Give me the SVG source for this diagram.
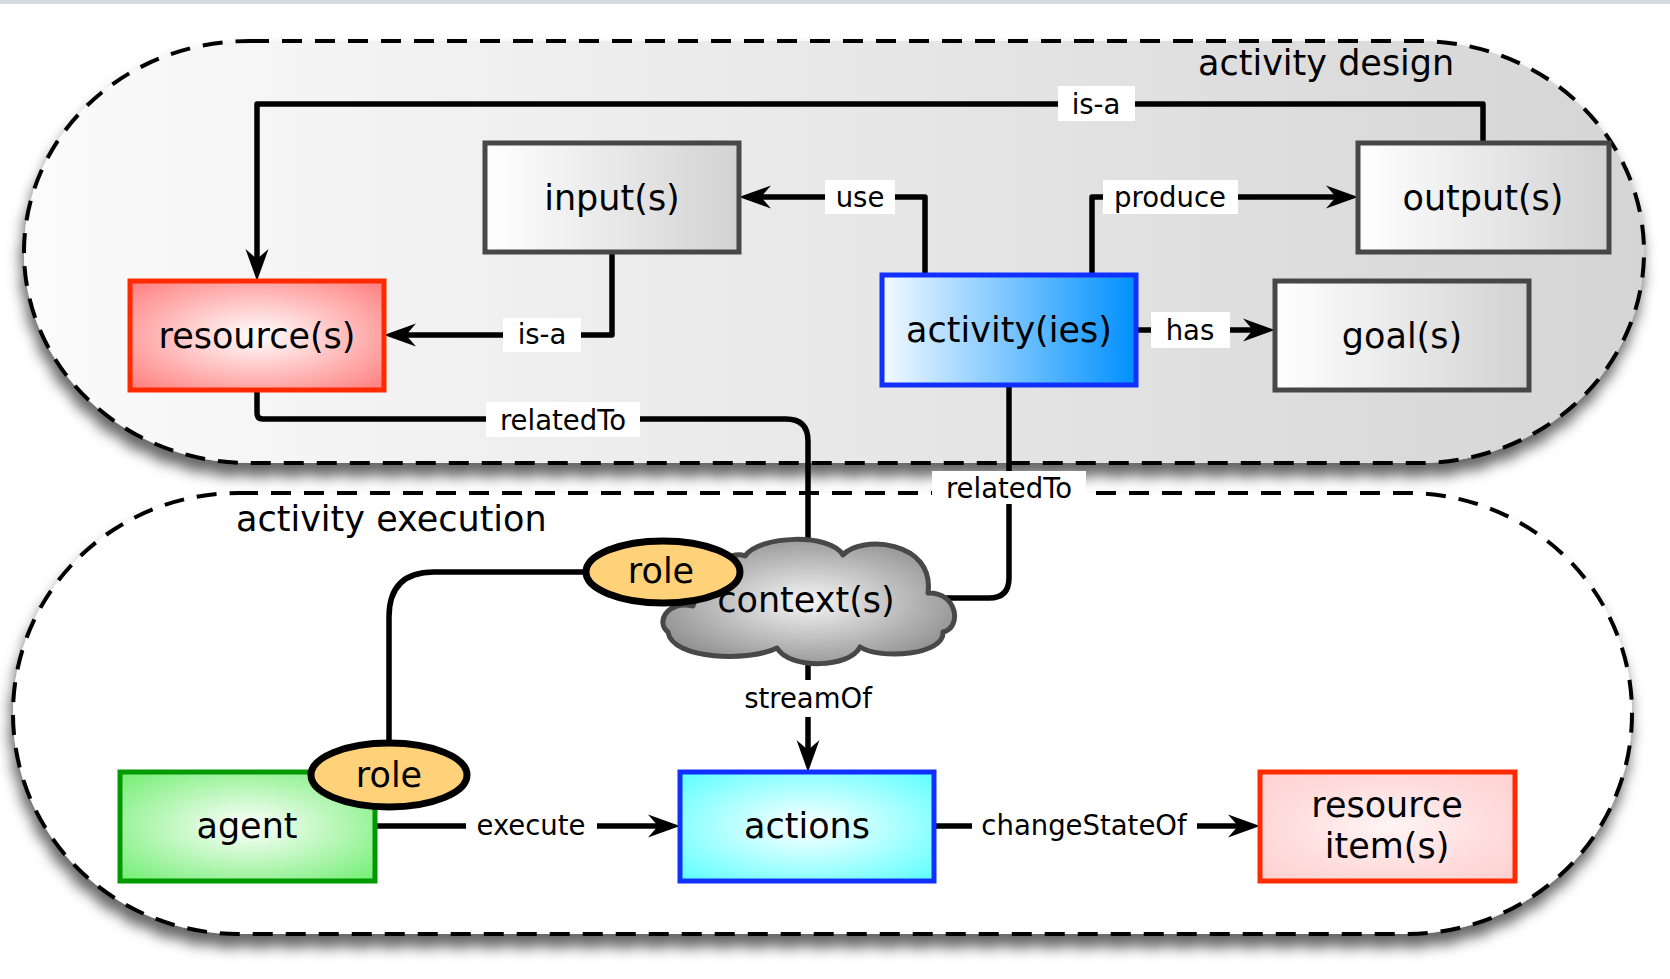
<svg xmlns="http://www.w3.org/2000/svg" width="1670" height="979" viewBox="0 0 1670 979">
  <defs>
    <style>
      text { font-family: "DejaVu Sans", "Liberation Sans", sans-serif; fill: #000; }
      .node-text { font-size: 35px; text-anchor: middle; }
      .edge-text { font-size: 27.5px; text-anchor: middle; }
      .area-text { font-size: 35px; }
      .area { stroke: #000; stroke-width: 4; stroke-dasharray: 20 13; }
      .edge { fill: none; stroke: #000; stroke-width: 5.5; stroke-linejoin: round; }
      .lbl { fill: #fff; stroke: none; }
      .box { stroke-width: 5; }
      .grey { stroke: #474747; fill: url(#gGrey); }
      .role { fill: #ffd27a; stroke: #000; stroke-width: 7; }
    </style>
    <linearGradient id="gDesign" x1="0" y1="0" x2="1" y2="0">
      <stop offset="0" stop-color="#fbfbfb"/>
      <stop offset="1" stop-color="#d5d5d5"/>
    </linearGradient>
    <linearGradient id="gGrey" x1="0" y1="0" x2="1" y2="0">
      <stop offset="0" stop-color="#ffffff"/>
      <stop offset="1" stop-color="#d2d2d2"/>
    </linearGradient>
    <linearGradient id="gActivity" x1="0" y1="0" x2="1" y2="0">
      <stop offset="0" stop-color="#f4faff"/>
      <stop offset="1" stop-color="#0090ff"/>
    </linearGradient>
    <radialGradient id="gRed" cx="0.5" cy="0.5" r="0.7">
      <stop offset="0" stop-color="#ffffff"/>
      <stop offset="1" stop-color="#ff7c7c"/>
    </radialGradient>
    <radialGradient id="gPink" cx="0.5" cy="0.5" r="0.7">
      <stop offset="0" stop-color="#fff4f4"/>
      <stop offset="0.6" stop-color="#ffdcdc"/>
      <stop offset="1" stop-color="#ffd0d0"/>
    </radialGradient>
    <radialGradient id="gGreen" cx="0.5" cy="0.5" r="0.7">
      <stop offset="0" stop-color="#ffffff"/>
      <stop offset="1" stop-color="#72ee72"/>
    </radialGradient>
    <radialGradient id="gCyan" cx="0.5" cy="0.5" r="0.7">
      <stop offset="0" stop-color="#ffffff"/>
      <stop offset="1" stop-color="#5cffff"/>
    </radialGradient>
    <radialGradient id="gCloud" cx="0.5" cy="0.5" r="0.62">
      <stop offset="0" stop-color="#f6f6f6"/>
      <stop offset="1" stop-color="#868686"/>
    </radialGradient>
    <filter id="shadow" x="-5%" y="-10%" width="110%" height="125%">
      <feDropShadow dx="-2" dy="12" stdDeviation="7" flood-color="#000" flood-opacity="0.6"/>
    </filter>
    <!-- stealth arrowhead; reference point sits at the notch, tip 22 units ahead -->
    <marker id="arrow" markerUnits="userSpaceOnUse" viewBox="-11 -12 34 24" markerWidth="34" markerHeight="24" refX="0" refY="0" orient="auto">
      <path d="M-10,-11.5 L22,0 L-10,11.5 L0,0 Z" fill="#000"/>
    </marker>
  </defs>

  <rect width="1670" height="979" fill="#fff"/>
  <rect x="0" y="0" width="1670" height="4" fill="#d4dbe1"/>

  <!-- areas -->
  <g id="area-design" filter="url(#shadow)">
    <rect class="area" x="24" y="41" width="1620" height="422" rx="225" ry="211" fill="url(#gDesign)"/>
  </g>
  <g id="area-execution" filter="url(#shadow)">
    <rect class="area" x="13" y="493" width="1619" height="441" rx="225" ry="220" fill="#fff"/>
  </g>
  <text class="area-text" x="1198" y="75">activity design</text>
  <text class="area-text" x="236" y="531">activity execution</text>

  <!-- connectors -->
  <g id="connectors">
    <path class="edge" d="M1483,143 V104 H257 V259" marker-end="url(#arrow)"/>
    <rect class="lbl" x="1058" y="86" width="77" height="35"/>
    <text class="edge-text" x="1096" y="114">is-a</text>

    <path class="edge" d="M612,252 V335 H406" marker-end="url(#arrow)"/>
    <rect class="lbl" x="503" y="318" width="78" height="34"/>
    <text class="edge-text" x="542" y="344">is-a</text>

    <path class="edge" d="M925,275 V197 H761" marker-end="url(#arrow)"/>
    <rect class="lbl" x="825" y="180" width="70" height="34"/>
    <text class="edge-text" x="860" y="207">use</text>

    <path class="edge" d="M1092,275 V197 H1336" marker-end="url(#arrow)"/>
    <rect class="lbl" x="1103" y="180" width="135" height="34"/>
    <text class="edge-text" x="1170" y="207">produce</text>

    <path class="edge" d="M1136,330 H1253" marker-end="url(#arrow)"/>
    <rect class="lbl" x="1151" y="312" width="79" height="36"/>
    <text class="edge-text" x="1190" y="340">has</text>

    <path class="edge" d="M257,390 V413 Q257,419 263,419 H786 Q808,419 808,441 V548"/>
    <rect class="lbl" x="486" y="402" width="154" height="35"/>
    <text class="edge-text" x="563" y="430">relatedTo</text>

    <path class="edge" d="M1009,385 V578 Q1009,598 989,598 H940"/>
    <rect class="lbl" x="932" y="471" width="154" height="33"/>
    <text class="edge-text" x="1009" y="498">relatedTo</text>

    <path class="edge" d="M590,572 H434 Q389,572 389,617 V745"/>

    <path class="edge" d="M808,655 V750" marker-end="url(#arrow)"/>
    <rect class="lbl" x="740" y="680" width="136" height="37"/>
    <text class="edge-text" x="808" y="708">streamOf</text>

    <path class="edge" d="M375,826 H658" marker-end="url(#arrow)"/>
    <rect class="lbl" x="466" y="808" width="131" height="36"/>
    <text class="edge-text" x="531" y="835">execute</text>

    <path class="edge" d="M934,826 H1238" marker-end="url(#arrow)"/>
    <rect class="lbl" x="972" y="808" width="225" height="36"/>
    <text class="edge-text" x="1084" y="835">changeStateOf</text>
  </g>

  <!-- nodes -->
  <g id="input">
    <rect class="box grey" x="485" y="143" width="254" height="109"/>
    <text class="node-text" x="612" y="210">input(s)</text>
  </g>
  <g id="resource">
    <rect class="box" x="130" y="281" width="254" height="109" fill="url(#gRed)" stroke="#ff2a00"/>
    <text class="node-text" x="257" y="348">resource(s)</text>
  </g>
  <g id="output">
    <rect class="box grey" x="1358" y="143" width="251" height="109"/>
    <text class="node-text" x="1483" y="210">output(s)</text>
  </g>
  <g id="activity">
    <rect class="box" x="882" y="275" width="254" height="110" fill="url(#gActivity)" stroke="#1030ff"/>
    <text class="node-text" x="1009" y="342">activity(ies)</text>
  </g>
  <g id="goal">
    <rect class="box grey" x="1275" y="281" width="254" height="109"/>
    <text class="node-text" x="1402" y="348">goal(s)</text>
  </g>
  <g id="context">
    <path d="M700,585 C712,560 735,552 745,556 C760,535 830,533 843,555 C860,535 935,540 928,593 C958,592 962,628 943,632 C945,655 880,660 860,647 C850,668 790,670 777,648 C750,662 672,660 668,632 C655,622 668,600 693,606 Z" fill="url(#gCloud)" stroke="#484848" stroke-width="5" stroke-linejoin="round"/>
    <text class="node-text" x="806" y="612">context(s)</text>
  </g>
  <g id="role-context">
    <ellipse class="role" cx="663" cy="572" rx="77" ry="31"/>
    <text class="node-text" x="661" y="583">role</text>
  </g>
  <g id="agent">
    <rect class="box" x="120" y="772" width="255" height="109" fill="url(#gGreen)" stroke="#009a00"/>
    <text class="node-text" x="247" y="838">agent</text>
  </g>
  <g id="role-agent">
    <ellipse class="role" cx="389" cy="775" rx="78" ry="32"/>
    <text class="node-text" x="389" y="787">role</text>
  </g>
  <g id="actions">
    <rect class="box" x="680" y="772" width="254" height="109" fill="url(#gCyan)" stroke="#1030ff"/>
    <text class="node-text" x="807" y="838">actions</text>
  </g>
  <g id="resource-item">
    <rect class="box" x="1260" y="772" width="255" height="109" fill="url(#gPink)" stroke="#ff2a00"/>
    <text class="node-text" x="1387" y="817">resource</text>
    <text class="node-text" x="1387" y="858">item(s)</text>
  </g>
</svg>
